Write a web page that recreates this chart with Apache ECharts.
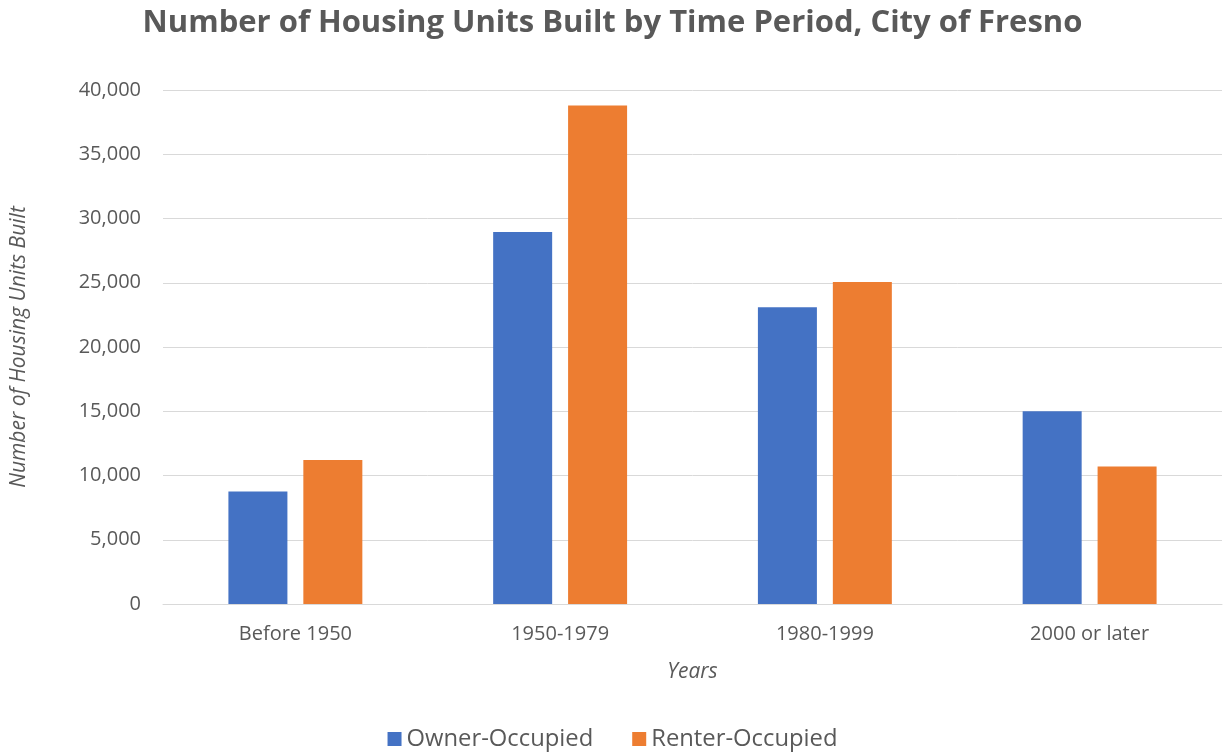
<!DOCTYPE html>
<html>
<head>
<meta charset="utf-8">
<script src="https://cdn.jsdelivr.net/npm/echarts@6/dist/echarts.min.js"></script>
<style>
  html, body { margin: 0; padding: 0; background: #fff; }
  #chart { width: 1225px; height: 754px; }
</style>
</head>
<body>
<div id="chart"></div>
<script>
// data
const periods = ["Before 1950", "1950-1979", "1980-1999", "2000 or later"];
const ownerOccupied = [8750, 28950, 23100, 15000];
const renterOccupied = [11200, 38800, 25050, 10700];
const yTicks = [0, 5000, 10000, 15000, 20000, 25000, 30000, 35000, 40000];

const grey = "#595959";
const font = "'Open Sans', 'Noto Sans', sans-serif";

let myChart = echarts.init(document.getElementById("chart"));
myChart.setOption({
  animation: false,
  title: {
    text: "Number of Housing Units Built by Time Period, City of Fresno",
    left: "center",
    top: 3,
    textStyle: { color: grey, fontSize: 31, fontWeight: "bold", fontFamily: font }
  },
  legend: {
    top: 722,
    left: "center",
    itemWidth: 14,
    itemHeight: 14,
    itemGap: 39,
    icon: "rect",
    textStyle: { color: grey, fontSize: 23.8, fontFamily: font }
  },
  grid: { left: 163, right: 3, top: 90, bottom: 150 },
  xAxis: {
    type: "category",
    data: periods,
    name: "Years",
    nameLocation: "middle",
    nameGap: 58,
    nameTextStyle: { color: grey, fontSize: 21, fontStyle: "italic", fontFamily: font },
    axisLine: { lineStyle: { color: "#d9d9d9", width: 1 } },
    axisTick: { show: false },
    axisLabel: { color: grey, fontSize: 20, margin: 20, fontFamily: font }
  },
  yAxis: {
    type: "value",
    min: yTicks[0],
    max: yTicks[yTicks.length - 1],
    interval: yTicks[1] - yTicks[0],
    name: "Number of Housing Units Built",
    nameLocation: "middle",
    nameGap: 133,
    nameTextStyle: { color: grey, fontSize: 21, fontStyle: "italic", fontFamily: font },
    axisLine: { show: false },
    axisTick: { show: false },
    axisLabel: {
      color: grey, fontSize: 20, margin: 22, fontFamily: font,
      formatter: v => v.toLocaleString("en-US")
    },
    splitLine: { lineStyle: { color: "#d9d9d9", width: 1 } }
  },
  series: [
    {
      name: "Owner-Occupied",
      type: "bar",
      data: ownerOccupied,
      barWidth: 59,
      barGap: "27%",
      itemStyle: { color: "#4472c4" }
    },
    {
      name: "Renter-Occupied",
      type: "bar",
      data: renterOccupied,
      barWidth: 59,
      barGap: "27%",
      itemStyle: { color: "#ed7d31" }
    }
  ]
});
</script>
</body>
</html>
